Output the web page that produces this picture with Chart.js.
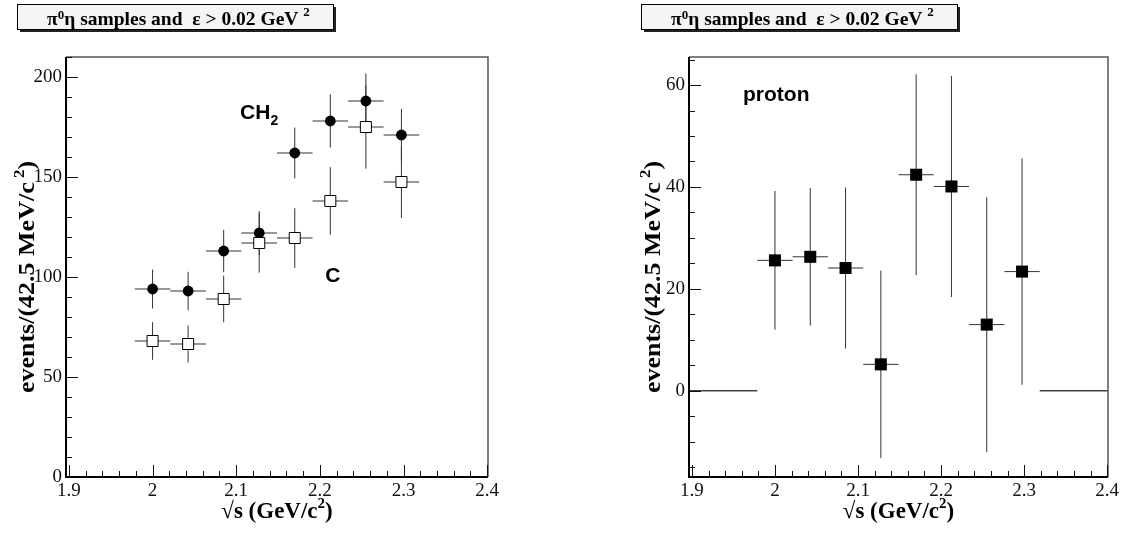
<!DOCTYPE html>
<html>
<head>
<meta charset="utf-8">
<script src="https://cdn.jsdelivr.net/npm/chart.js@4/dist/chart.umd.min.js"></script>
<style>
  html, body { margin: 0; padding: 0; background: #fff; }
  body { width: 1125px; height: 540px; position: relative; overflow: hidden; }
  canvas { position: absolute; top: 0; }
</style>
</head>
<body>
<canvas id="left" width="562" height="540" style="left:0"></canvas>
<canvas id="right" width="563" height="540" style="left:562px"></canvas>
<script>
// Invariant-mass bins (GeV/c^2), 42.5 MeV wide
const binCenters = [2.0, 2.0425, 2.085, 2.1275, 2.17, 2.2125, 2.255, 2.2975];
const binHalfWidth = 0.02125;
const emptyBinCenters = [1.915, 1.9575, 2.34, 2.3825];

// CH2 target
const ch2Counts = [94, 93, 113, 122, 162, 178, 188, 171];
const ch2Errors = [9.7, 9.6, 10.6, 11.0, 12.7, 13.3, 13.7, 13.1];
// Carbon target
const carbonCounts = [68, 66.5, 89, 117, 119.5, 138, 175, 147.5];
const carbonErrors = [9.4, 9.3, 11.7, 14.8, 14.9, 16.9, 20.8, 18.0];
// Proton (CH2 - C)
const protonCounts = [25.6, 26.3, 24.1, 5.2, 42.4, 40.1, 13.0, 23.4];
const protonErrors = [13.6, 13.5, 15.8, 18.4, 19.7, 21.7, 25.0, 22.2];

// Axis ticks
const xTickValues = [1.9, 2.0, 2.1, 2.2, 2.3, 2.4];
const xTickLabels = ['1.9', '2', '2.1', '2.2', '2.3', '2.4'];
const leftYTicks = [0, 50, 100, 150, 200];
const rightYTicks = [0, 20, 40, 60];

const SERIF = '"Liberation Serif", "Times New Roman", serif';
const SANS = '"Liberation Sans", Arial, sans-serif';

function points(xs, ys) { return xs.map((x, i) => ({ x, y: ys[i] })); }

// Draws a run of text pieces (for super/subscripts)
function richWidth(ctx, segs) {
  let w = 0;
  segs.forEach(s => { ctx.font = s.font; w += ctx.measureText(s.text).width; });
  return w;
}
function drawRich(ctx, segs, x, y) {
  let cx = x;
  segs.forEach(s => {
    ctx.font = s.font;
    ctx.fillText(s.text, cx, y + (s.dy || 0));
    cx += ctx.measureText(s.text).width;
  });
}

// Horizontal/vertical error bars for each bin
const errorBars = {
  id: 'errorBars',
  beforeDatasetsDraw(chart) {
    const { ctx, chartArea: a, scales: { x, y } } = chart;
    ctx.save();
    ctx.beginPath();
    ctx.rect(a.left, a.top, a.right - a.left, a.bottom - a.top);
    ctx.clip();
    chart.data.datasets.forEach(ds => {
      if (!ds.errY) return;
      ctx.strokeStyle = ds.barColor || '#333';
      ctx.lineWidth = ds.barWidth || 1;
      ds.data.forEach((p, i) => {
        const px = x.getPixelForValue(p.x), py = y.getPixelForValue(p.y);
        const x0 = x.getPixelForValue(p.x - ds.errX), x1 = x.getPixelForValue(p.x + ds.errX);
        ctx.beginPath();
        ctx.moveTo(x0, py); ctx.lineTo(x1, py);
        if (ds.errY[i] > 0) {
          ctx.moveTo(px, y.getPixelForValue(p.y - ds.errY[i]));
          ctx.lineTo(px, y.getPixelForValue(p.y + ds.errY[i]));
        }
        ctx.stroke();
      });
    });
    ctx.restore();
  }
};

// Frame with inward major/minor ticks
const frame = {
  id: 'frame',
  afterDatasetsDraw(chart, args, opts) {
    const { ctx, chartArea: a, scales: { x, y } } = chart;
    ctx.save();
    ctx.strokeStyle = '#555';
    ctx.lineWidth = 1.5;
    ctx.beginPath();
    ctx.moveTo(a.left, a.top); ctx.lineTo(a.right, a.top); ctx.lineTo(a.right, a.bottom);
    ctx.stroke();

    ctx.strokeStyle = '#111';
    ctx.lineWidth = 1;
    ctx.beginPath();
    for (let k = 0; k <= 25; k++) {
      const v = 1.9 + k * 0.02;
      const len = (k % 5 === 0) ? 12 : 6;
      const px = Math.round(x.getPixelForValue(v)) + 0.5;
      ctx.moveTo(px, a.bottom); ctx.lineTo(px, a.bottom - len);
    }
    for (let v = opts.yMinorStart; v <= y.max + 1e-9; v += opts.yMinorStep) {
      const major = Math.abs(v / opts.yMajorStep - Math.round(v / opts.yMajorStep)) < 1e-6;
      const py = Math.round(y.getPixelForValue(v)) + 0.5;
      ctx.moveTo(a.left, py); ctx.lineTo(a.left + (major ? 12 : 6), py);
    }
    ctx.stroke();

    ctx.strokeStyle = '#000';
    ctx.lineWidth = 2;
    ctx.beginPath();
    ctx.moveTo(a.left, a.top); ctx.lineTo(a.left, a.bottom); ctx.lineTo(a.right, a.bottom);
    ctx.stroke();
    ctx.restore();
  }
};

// Header box, axis titles and target labels
const labels = {
  id: 'labels',
  afterDraw(chart, args, opts) {
    const { ctx, chartArea: a, scales: { x, y } } = chart;
    ctx.save();
    ctx.fillStyle = '#000';
    ctx.textBaseline = 'alphabetic';
    ctx.textAlign = 'left';

    // header box
    const b = opts.box;
    ctx.fillStyle = '#222';
    ctx.fillRect(b.x + 3, b.y + 3, b.w, b.h);
    ctx.fillStyle = '#f4f4f4';
    ctx.fillRect(b.x, b.y, b.w, b.h);
    ctx.strokeStyle = '#000';
    ctx.lineWidth = 1;
    ctx.strokeRect(b.x + 0.5, b.y + 0.5, b.w, b.h);
    ctx.fillStyle = '#000';
    const hb = 'bold 19.5px ' + SERIF, hs = 'bold 13px ' + SERIF;
    drawRich(ctx, [
      { text: 'π', font: hb },
      { text: '0', font: hs, dy: -6 },
      { text: 'η samples and  ε > 0.02 GeV ', font: hb },
      { text: '2', font: hs, dy: -9 }
    ], b.x + 30, b.y + 21);

    // y title (slightly stretched along its baseline)
    const tb = 'bold 23px ' + SERIF, ts = 'bold 15px ' + SERIF;
    const ySegs = [
      { text: 'events/(42.5 MeV/c', font: tb },
      { text: ' 2', font: ts, dy: -10 },
      { text: ')', font: tb }
    ];
    const yw = richWidth(ctx, ySegs);
    ctx.save();
    ctx.translate(a.left - opts.yTitleOffset, 277);
    ctx.rotate(-Math.PI / 2);
    ctx.scale(1.13, 1);
    drawRich(ctx, ySegs, -yw / 2, 8);
    ctx.restore();

    // x title
    const xSegs = [
      { text: '√s (GeV/c', font: 'bold 23px ' + SERIF },
      { text: '2', font: 'bold 15px ' + SERIF, dy: -10 },
      { text: ')', font: 'bold 23px ' + SERIF }
    ];
    const xw = richWidth(ctx, xSegs);
    drawRich(ctx, xSegs, (a.left + a.right) / 2 - xw / 2, 518);

    // target labels
    (opts.notes || []).forEach(n => {
      const segs = [{ text: n.text, font: 'bold 21px ' + SANS }];
      if (n.sub) segs.push({ text: n.sub, font: 'bold 14px ' + SANS, dy: 6 });
      drawRich(ctx, segs, x.getPixelForValue(n.x), y.getPixelForValue(n.y));
    });
    ctx.restore();
  }
};

function makeScales(yMin, yMax, yTicks, yWidth) {
  return {
    x: {
      type: 'linear', min: 1.8965, max: 2.401,
      afterBuildTicks: s => { s.ticks = xTickValues.map(v => ({ value: v })); },
      afterFit: s => { s.height = 63; },
      ticks: {
        autoSkip: false, maxRotation: 0, padding: 3, color: '#111',
        font: { family: SERIF, size: 19 },
        callback: (v, i) => xTickLabels[i]
      },
      grid: { display: false, drawTicks: false },
      border: { display: false }
    },
    y: {
      type: 'linear', min: yMin, max: yMax,
      afterBuildTicks: s => { s.ticks = yTicks.map(v => ({ value: v })); },
      afterFit: s => { s.width = yWidth; },
      ticks: {
        padding: 4, color: '#111',
        font: { family: SERIF, size: 19 },
        callback: v => String(v)
      },
      grid: { display: false, drawTicks: false },
      border: { display: false }
    }
  };
}

const common = {
  responsive: false,
  animation: false,
  events: [],
  plugins: { legend: { display: false }, tooltip: { enabled: false } }
};

function emptyBins() {
  return {
    data: emptyBinCenters.map(x => ({ x, y: 0 })),
    errX: binHalfWidth, errY: emptyBinCenters.map(() => 0),
    barColor: '#444', barWidth: 1.5, pointRadius: 0, showLine: false
  };
}

new Chart(document.getElementById('left'), {
  type: 'scatter',
  data: {
    datasets: [
      emptyBins(),
      {
        label: 'C',
        data: points(binCenters, carbonCounts),
        errX: binHalfWidth, errY: carbonErrors,
        pointStyle: 'rect', pointRadius: 7.8,
        backgroundColor: '#fff', borderColor: '#000', borderWidth: 1
      },
      {
        label: 'CH2',
        data: points(binCenters, ch2Counts),
        errX: binHalfWidth, errY: ch2Errors,
        pointStyle: 'circle', pointRadius: 5.4,
        backgroundColor: '#000', borderColor: '#000', borderWidth: 0
      }
    ]
  },
  options: {
    ...common,
    layout: { padding: { left: 0, top: 57, right: 74, bottom: 0 } },
    scales: makeScales(0, 210, leftYTicks, 66),
    plugins: {
      ...common.plugins,
      frame: { yMinorStart: 0, yMinorStep: 10, yMajorStep: 50 },
      labels: {
        box: { x: 17, y: 4, w: 316, h: 25 },
        yTitleOffset: 40,
        notes: [
          { text: 'CH', sub: '2', x: 2.1046, y: 179 },
          { text: 'C', x: 2.2065, y: 97.5 }
        ]
      }
    }
  },
  plugins: [errorBars, frame, labels]
});

new Chart(document.getElementById('right'), {
  type: 'scatter',
  data: {
    datasets: [
      emptyBins(),
      {
        label: 'proton',
        data: points(binCenters, protonCounts),
        errX: binHalfWidth, errY: protonErrors,
        pointStyle: 'rect', pointRadius: 8.5,
        backgroundColor: '#000', borderColor: '#000', borderWidth: 0
      }
    ]
  },
  options: {
    ...common,
    layout: { padding: { left: 0, top: 57, right: 17, bottom: 0 } },
    scales: makeScales(-16.9, 65.5, rightYTicks, 127),
    plugins: {
      ...common.plugins,
      frame: { yMinorStart: -15, yMinorStep: 5, yMajorStep: 20 },
      labels: {
        box: { x: 79, y: 4, w: 316, h: 25 },
        yTitleOffset: 37,
        notes: [
          { text: 'proton', x: 1.9615, y: 56.9 }
        ]
      }
    }
  },
  plugins: [errorBars, frame, labels]
});
</script>
</body>
</html>
